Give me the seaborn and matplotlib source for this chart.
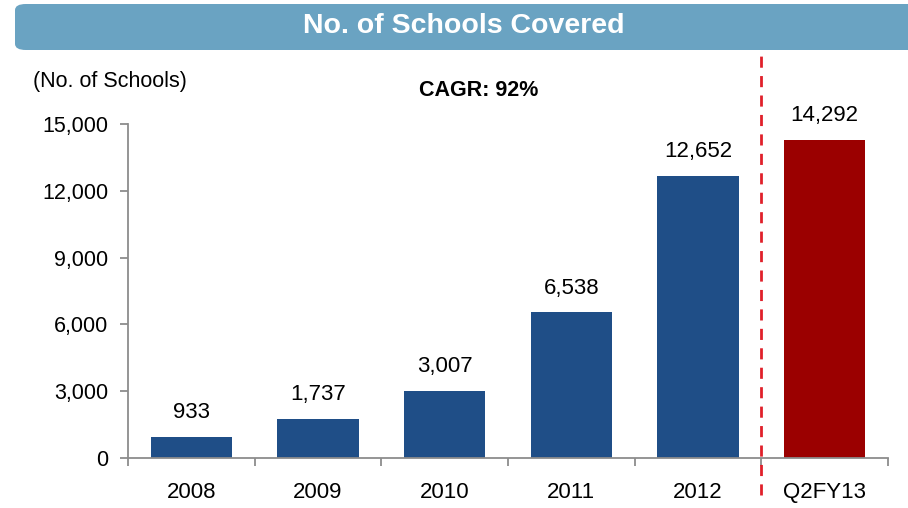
import matplotlib
matplotlib.use("Agg")
import matplotlib.pyplot as plt
import seaborn as sns
import pandas as pd
from matplotlib.patches import FancyBboxPatch
from matplotlib.ticker import FuncFormatter, FixedLocator

years = ["2008", "2009", "2010", "2011", "2012", "Q2FY13"]
schools = [933, 1737, 3007, 6538, 12652, 14292]
bar_colors = ["#1F4E87", "#1F4E87", "#1F4E87", "#1F4E87", "#1F4E87", "#9B0000"]
yticks = [0, 3000, 6000, 9000, 12000, 15000]

sns.set_style("white")
plt.rcParams["font.family"] = ["Liberation Sans", "DejaVu Sans"]
plt.rcParams["text.color"] = "black"
plt.rcParams["xtick.color"] = "black"
plt.rcParams["ytick.color"] = "black"

df = pd.DataFrame({"year": years, "schools": schools})

fig = plt.figure(figsize=(9.08, 5.08), dpi=100)
ax = fig.add_axes([128 / 908, 50 / 508, 760 / 908, 334 / 508])

sns.barplot(data=df, x="year", y="schools", hue="year", palette=bar_colors,
            legend=False, width=0.64, saturation=1, linewidth=0, ax=ax)

for c in ax.containers:
    ax.bar_label(c, labels=[f"{v:,.0f}" for v in c.datavalues],
                 padding=10, fontsize=16, color="black")

ax.set_xlim(-0.5, 5.5)
ax.set_ylim(0, 15000)
ax.set_yticks(yticks)
ax.yaxis.set_major_formatter(FuncFormatter(lambda v, p: f"{v:,.0f}"))
ax.set_xlabel("")
ax.set_ylabel("")

for s in ["top", "right"]:
    ax.spines[s].set_visible(False)
for s in ["left", "bottom"]:
    ax.spines[s].set_color("#8c8c8c")
    ax.spines[s].set_linewidth(1.3)

ax.xaxis.set_minor_locator(FixedLocator([i - 0.5 for i in range(len(years) + 1)]))
ax.tick_params(axis="x", which="major", length=0, pad=17, labelsize=16)
ax.tick_params(axis="x", which="minor", length=6, width=1.3, color="#8c8c8c",
               direction="out", bottom=True)
ax.tick_params(axis="y", length=6, width=1.3, color="#8c8c8c", direction="out",
               left=True, pad=8, labelsize=15.5, labelcolor="black")

# dashed separator between annual data and Q2FY13
ax.axvline(4.5, ymin=-0.11, ymax=1.235, color="#E0202A", lw=2,
           dashes=(4, 3), clip_on=False)

# title banner
banner = FancyBboxPatch((15 / 908, 1 - 50 / 508), 1.0, 46 / 508,
                        boxstyle="round,pad=0,rounding_size=0.012",
                        transform=fig.transFigure, facecolor="#6AA3C2",
                        edgecolor="none", zorder=0)
fig.patches.append(banner)
fig.text(464 / 908, 1 - 26 / 508, "No. of Schools Covered", color="white",
         fontsize=20.5, fontweight="bold", ha="center", va="center")

fig.text(33 / 908, 1 - 82 / 508, "(No. of Schools)", fontsize=15.5,
         ha="left", va="center")
fig.text(479 / 908, 1 - 90 / 508, "CAGR: 92%", fontsize=15.5,
         fontweight="bold", ha="center", va="center")

fig.savefig("out.png", dpi=100)
